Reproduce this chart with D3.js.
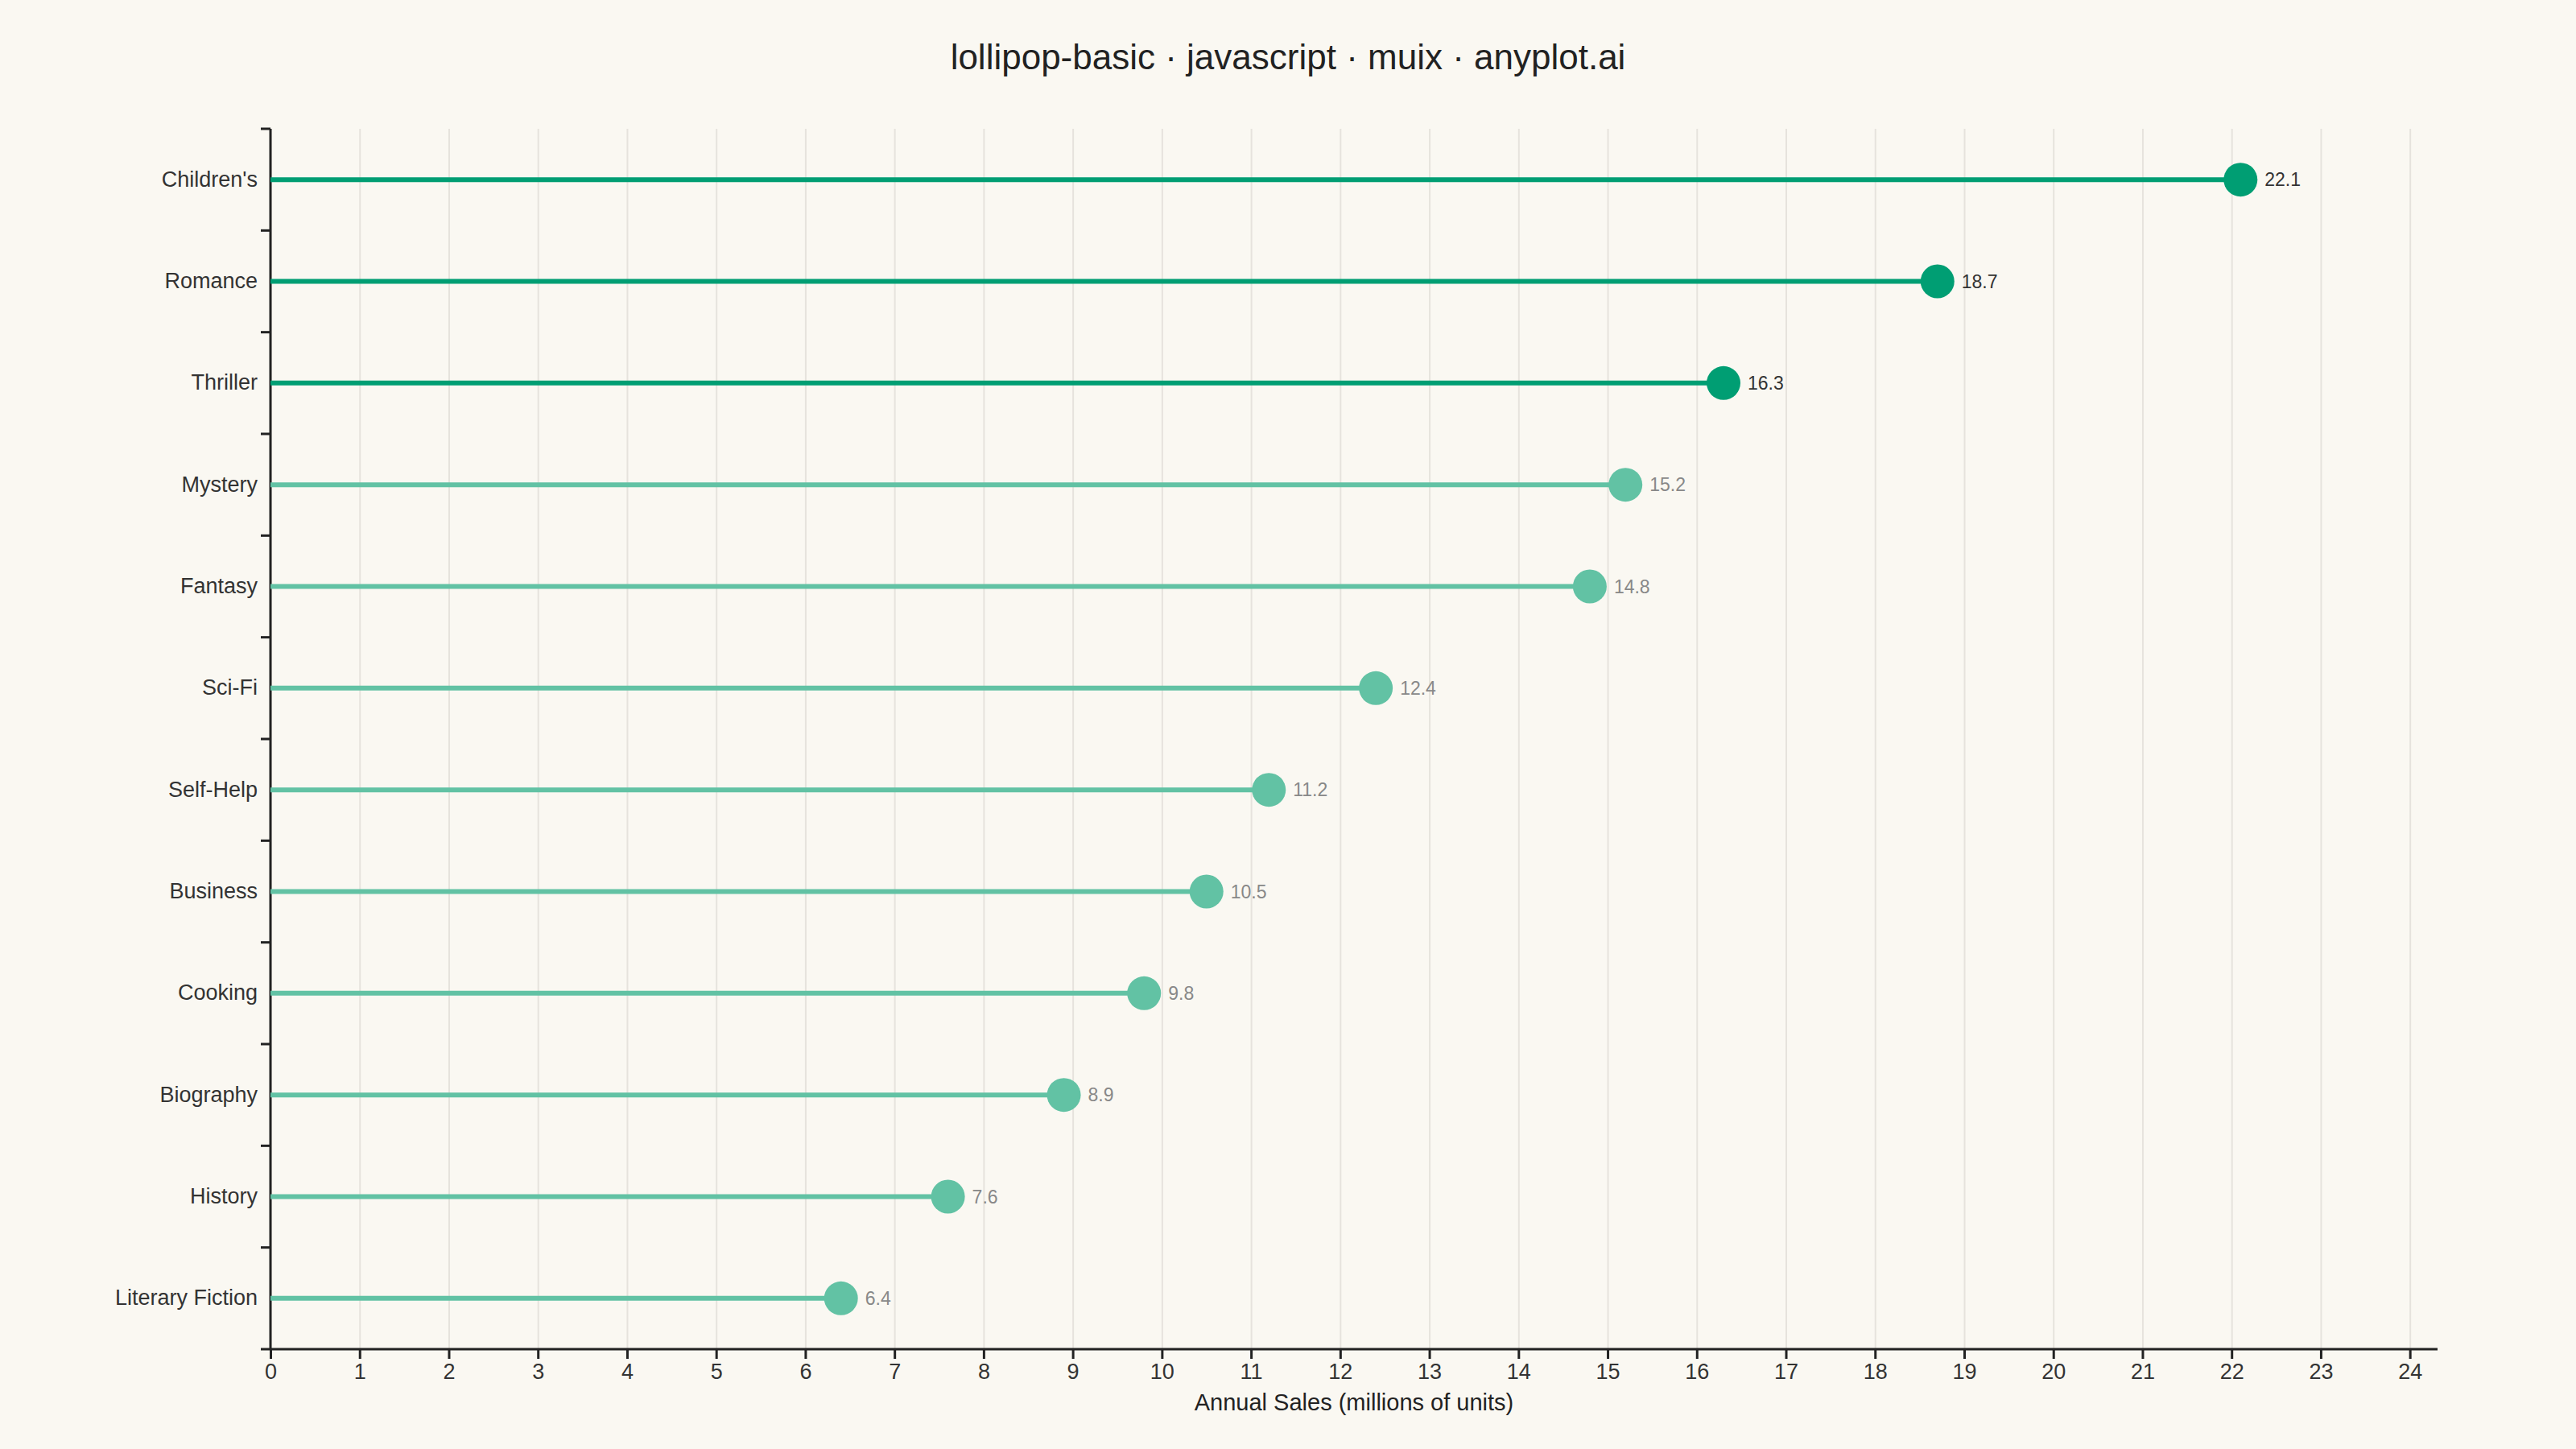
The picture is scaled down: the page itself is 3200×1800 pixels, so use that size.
<!DOCTYPE html>
<html>
<head>
<meta charset="utf-8">
<script src="https://cdn.jsdelivr.net/npm/d3@7"></script>
<style>
  body { margin: 0; background: #faf8f2; font-family: "Liberation Sans", Arial, sans-serif; }
  .grid line { stroke: #e6e3dd; stroke-width: 2px; }
  .grid path { display: none; }
</style>
</head>
<body>
<svg id="chart"></svg>
<script>
// --- data
var genres = ["Children's", "Romance", "Thriller", "Mystery", "Fantasy", "Sci-Fi",
  "Self-Help", "Business", "Cooking", "Biography", "History", "Literary Fiction"];
var sales = [22.1, 18.7, 16.3, 15.2, 14.8, 12.4, 11.2, 10.5, 9.8, 8.9, 7.6, 6.4];
var highlightCount = 3;

var W = 3200, H = 1800;
var margin = { top: 160, right: 172, bottom: 124, left: 336 };

var svg = d3.select("#chart").attr("width", W).attr("height", H);

var x = d3.scaleLinear()
  .domain([0, d3.max(sales) * 1.1])
  .range([margin.left, W - margin.right]);

var y = d3.scaleBand()
  .domain(genres)
  .range([margin.top, H - margin.bottom])
  .padding(0);

//--- vertical grid
svg.append("g")
  .attr("class", "grid")
  .attr("transform", "translate(0," + (H - margin.bottom) + ")")
  .call(d3.axisBottom(x).ticks(24).tickSize(-(H - margin.top - margin.bottom)).tickFormat(""));

//--- x axis
var xAxis = svg.append("g")
  .attr("transform", "translate(0," + (H - margin.bottom) + ")")
  .call(d3.axisBottom(x).ticks(24).tickSize(12).tickPadding(6).tickSizeOuter(0));
xAxis.select("path").attr("stroke", "#222").attr("stroke-width", 3)
  .attr("d", "M" + (margin.left - 12) + ",0H" + (W - margin.right));
xAxis.selectAll("line").attr("stroke", "#222").attr("stroke-width", 3);
xAxis.selectAll("text").attr("font-size", 27).attr("fill", "#333")
  .attr("font-family", "Liberation Sans, Arial, sans-serif");

//--- y axis: labels at band centres, ticks at band edges
var yAxis = svg.append("g")
  .attr("transform", "translate(" + margin.left + ",0)")
  .call(d3.axisLeft(y).tickSize(0).tickPadding(16));
yAxis.select("path").remove();
yAxis.selectAll("text").attr("font-size", 27).attr("fill", "#333")
  .attr("font-family", "Liberation Sans, Arial, sans-serif");

var edges = genres.map(g => y(g)).concat([y(genres[genres.length - 1]) + y.bandwidth()]);
svg.append("line")
  .attr("x1", margin.left).attr("x2", margin.left)
  .attr("y1", margin.top).attr("y2", H - margin.bottom)
  .attr("stroke", "#222").attr("stroke-width", 3);
svg.append("g").selectAll("line").data(edges.slice(0, -1)).enter().append("line")
  .attr("x1", margin.left - 12).attr("x2", margin.left)
  .attr("y1", d => d).attr("y2", d => d)
  .attr("stroke", "#222").attr("stroke-width", 3);

//--- lollipops
var rows = genres.map((g, i) => ({ genre: g, value: sales[i], top: i < highlightCount }));

var lol = svg.append("g").selectAll("g").data(rows).enter().append("g");
lol.append("line")
  .attr("x1", x(0))
  .attr("x2", d => x(d.value))
  .attr("y1", d => y(d.genre) + y.bandwidth() / 2)
  .attr("y2", d => y(d.genre) + y.bandwidth() / 2)
  .attr("stroke", d => d.top ? "#009E73" : "#62c2a4")
  .attr("stroke-width", 6);
lol.append("circle")
  .attr("cx", d => x(d.value))
  .attr("cy", d => y(d.genre) + y.bandwidth() / 2)
  .attr("r", 21)
  .attr("fill", d => d.top ? "#009E73" : "#62c2a4");
lol.append("text")
  .attr("x", d => x(d.value) + 30)
  .attr("y", d => y(d.genre) + y.bandwidth() / 2)
  .attr("dy", "0.35em")
  .attr("font-size", 23)
  .attr("fill", d => d.top ? "#333" : "#888")
  .text(d => d.value.toFixed(1));

//--- titles
svg.append("text")
  .attr("x", W / 2).attr("y", 71)
  .attr("text-anchor", "middle").attr("dy", "0.35em")
  .attr("font-size", 44).attr("fill", "#222")
  .text("lollipop-basic · javascript · muix · anyplot.ai");

svg.append("text")
  .attr("x", (margin.left + W - margin.right) / 2).attr("y", 1742)
  .attr("text-anchor", "middle").attr("dy", "0.35em")
  .attr("font-size", 29).attr("fill", "#222")
  .text("Annual Sales (millions of units)");
</script>
</body>
</html>
